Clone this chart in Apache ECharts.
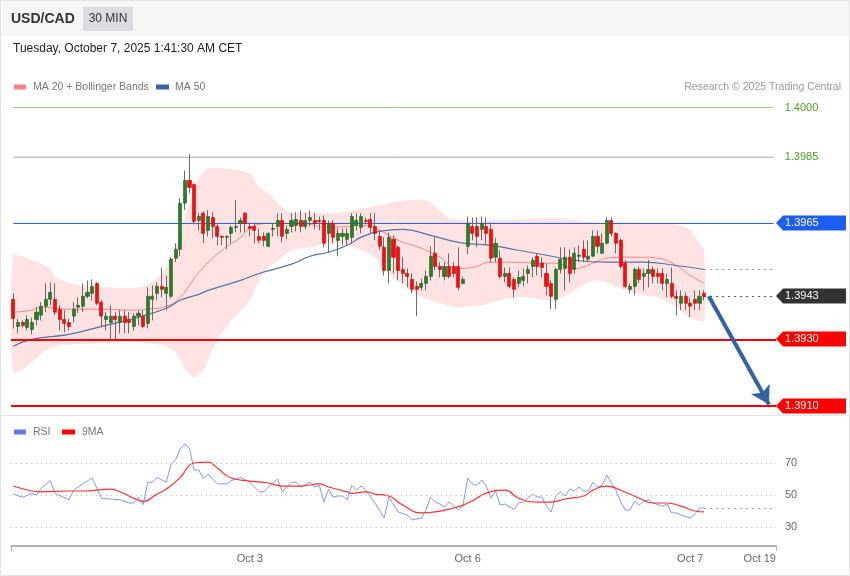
<!DOCTYPE html>
<html>
<head>
<meta charset="utf-8">
<script src="https://cdn.jsdelivr.net/npm/echarts@6/dist/echarts.min.js"></script>
<style>
  html, body { margin: 0; padding: 0; background: #fff; }
  #chart { width: 850px; height: 576px; }
</style>
</head>
<body>
<div id="chart"></div>
<script>
// USD/CAD 30-minute candles: [open, close, low, high]
const candles = [
  [1.39421,1.39363,1.39333,1.39439],[1.39339,1.39351,1.39318,1.39363],[1.39351,1.39342,1.39336,1.39357],
  [1.39336,1.39360,1.39327,1.39373],[1.39330,1.39351,1.39315,1.39366],[1.39360,1.39382,1.39342,1.39397],
  [1.39373,1.39400,1.39357,1.39412],[1.39400,1.39421,1.39382,1.39469],[1.39421,1.39442,1.39403,1.39472],
  [1.39421,1.39382,1.39373,1.39469],[1.39391,1.39360,1.39327,1.39403],[1.39360,1.39348,1.39321,1.39388],
  [1.39351,1.39339,1.39327,1.39363],[1.39370,1.39391,1.39351,1.39412],[1.39397,1.39403,1.39379,1.39427],
  [1.39400,1.39430,1.39382,1.39469],[1.39430,1.39442,1.39424,1.39478],[1.39439,1.39460,1.39418,1.39481],
  [1.39469,1.39409,1.39403,1.39472],[1.39412,1.39370,1.39336,1.39418],[1.39360,1.39370,1.39327,1.39382],
  [1.39351,1.39370,1.39297,1.39403],[1.39370,1.39360,1.39297,1.39382],[1.39351,1.39370,1.39318,1.39388],
  [1.39370,1.39351,1.39318,1.39388],[1.39360,1.39351,1.39318,1.39382],[1.39339,1.39370,1.39327,1.39379],
  [1.39370,1.39379,1.39342,1.39388],[1.39370,1.39339,1.39333,1.39388],[1.39348,1.39430,1.39333,1.39457],
  [1.39421,1.39430,1.39357,1.39463],[1.39439,1.39460,1.39418,1.39472],[1.39460,1.39451,1.39427,1.39517],
  [1.39439,1.39457,1.39388,1.39493],[1.39430,1.39542,1.39424,1.39548],[1.39545,1.39572,1.39533,1.39590],
  [1.39572,1.39711,1.39551,1.39726],[1.39711,1.39780,1.39690,1.39810],[1.39780,1.39759,1.39741,1.39859],
  [1.39768,1.39656,1.39647,1.39771],[1.39659,1.39671,1.39629,1.39681],[1.39681,1.39620,1.39590,1.39687],
  [1.39629,1.39671,1.39611,1.39690],[1.39668,1.39641,1.39605,1.39684],[1.39641,1.39611,1.39584,1.39647],
  [1.39611,1.39608,1.39584,1.39614],[1.39608,1.39611,1.39572,1.39614],[1.39620,1.39638,1.39590,1.39644],
  [1.39638,1.39641,1.39623,1.39720],[1.39650,1.39659,1.39623,1.39668],[1.39681,1.39650,1.39623,1.39684],
  [1.39641,1.39635,1.39611,1.39653],[1.39641,1.39629,1.39590,1.39653],[1.39611,1.39599,1.39590,1.39635],
  [1.39611,1.39599,1.39581,1.39623],[1.39581,1.39620,1.39578,1.39623],[1.39632,1.39635,1.39611,1.39650],
  [1.39641,1.39659,1.39611,1.39681],[1.39659,1.39611,1.39593,1.39681],[1.39620,1.39632,1.39602,1.39644],
  [1.39641,1.39659,1.39623,1.39681],[1.39644,1.39662,1.39626,1.39684],[1.39659,1.39641,1.39623,1.39690],
  [1.39641,1.39659,1.39632,1.39681],[1.39659,1.39668,1.39641,1.39690],[1.39659,1.39650,1.39632,1.39681],
  [1.39659,1.39656,1.39629,1.39671],[1.39659,1.39590,1.39578,1.39674],[1.39620,1.39650,1.39563,1.39659],
  [1.39650,1.39608,1.39590,1.39659],[1.39599,1.39620,1.39551,1.39635],[1.39611,1.39620,1.39584,1.39635],
  [1.39602,1.39620,1.39584,1.39635],[1.39608,1.39671,1.39590,1.39681],[1.39644,1.39659,1.39629,1.39681],
  [1.39638,1.39671,1.39620,1.39681],[1.39659,1.39656,1.39647,1.39668],[1.39662,1.39638,1.39620,1.39681],
  [1.39641,1.39620,1.39599,1.39681],[1.39611,1.39581,1.39569,1.39629],[1.39578,1.39508,1.39493,1.39608],
  [1.39508,1.39608,1.39469,1.39623],[1.39602,1.39548,1.39499,1.39614],[1.39578,1.39508,1.39478,1.39584],
  [1.39511,1.39499,1.39469,1.39548],[1.39499,1.39490,1.39457,1.39514],[1.39481,1.39451,1.39439,1.39499],
  [1.39460,1.39451,1.39370,1.39475],[1.39457,1.39469,1.39448,1.39484],[1.39469,1.39490,1.39448,1.39508],
  [1.39490,1.39551,1.39478,1.39581],[1.39560,1.39520,1.39508,1.39608],[1.39520,1.39511,1.39487,1.39533],
  [1.39490,1.39520,1.39478,1.39533],[1.39520,1.39490,1.39484,1.39560],[1.39520,1.39499,1.39487,1.39533],
  [1.39520,1.39457,1.39448,1.39578],[1.39469,1.39481,1.39466,1.39490],[1.39581,1.39650,1.39557,1.39671],
  [1.39641,1.39620,1.39599,1.39668],[1.39641,1.39611,1.39578,1.39668],[1.39632,1.39650,1.39599,1.39671],
  [1.39641,1.39620,1.39584,1.39668],[1.39632,1.39545,1.39533,1.39653],[1.39548,1.39590,1.39533,1.39605],
  [1.39545,1.39490,1.39484,1.39569],[1.39490,1.39499,1.39472,1.39517],[1.39499,1.39460,1.39454,1.39517],
  [1.39481,1.39451,1.39427,1.39487],[1.39469,1.39487,1.39457,1.39508],[1.39478,1.39490,1.39460,1.39514],
  [1.39499,1.39511,1.39469,1.39523],[1.39520,1.39539,1.39487,1.39548],[1.39551,1.39520,1.39493,1.39560],
  [1.39530,1.39517,1.39487,1.39548],[1.39499,1.39460,1.39433,1.39530],[1.39469,1.39430,1.39391,1.39478],
  [1.39421,1.39511,1.39391,1.39517],[1.39511,1.39542,1.39499,1.39578],[1.39514,1.39548,1.39448,1.39578],
  [1.39548,1.39499,1.39472,1.39572],[1.39511,1.39560,1.39499,1.39578],[1.39551,1.39554,1.39533,1.39584],
  [1.39572,1.39548,1.39533,1.39599],[1.39542,1.39551,1.39533,1.39599],[1.39551,1.39611,1.39548,1.39629],
  [1.39611,1.39581,1.39560,1.39629],[1.39560,1.39590,1.39557,1.39620],[1.39590,1.39659,1.39587,1.39668],
  [1.39659,1.39620,1.39611,1.39668],[1.39620,1.39590,1.39560,1.39623],[1.39599,1.39520,1.39514,1.39605],
  [1.39530,1.39460,1.39454,1.39539],[1.39451,1.39460,1.39439,1.39469],[1.39460,1.39511,1.39433,1.39517],
  [1.39511,1.39481,1.39469,1.39520],[1.39490,1.39499,1.39448,1.39514],[1.39499,1.39511,1.39457,1.39539],
  [1.39511,1.39490,1.39469,1.39520],[1.39499,1.39490,1.39469,1.39514],[1.39499,1.39469,1.39448,1.39514],
  [1.39469,1.39481,1.39427,1.39499],[1.39469,1.39430,1.39424,1.39517],[1.39430,1.39424,1.39373,1.39448],
  [1.39409,1.39430,1.39388,1.39448],[1.39430,1.39409,1.39388,1.39442],[1.39409,1.39400,1.39366,1.39424],
  [1.39421,1.39409,1.39388,1.39448],[1.39409,1.39430,1.39388,1.39448],[1.39439,1.39430,1.39418,1.39448]
];

// Moving averages and Bollinger envelope: [candle index, price]
const ma20 = [
  [0,1.39382],[4,1.39388],[6,1.39397],[12,1.39391],[19,1.39391],[26,1.39388],[29,1.39391],[33,1.39400],
  [36,1.39427],[40,1.39502],[45,1.39569],[49,1.39608],[51,1.39635],[55,1.39650],[62,1.39650],[68,1.39638],
  [72,1.39641],[75,1.39644],[79,1.39629],[83,1.39599],[88,1.39575],[92,1.39548],[96,1.39514],[99,1.39517],
  [103,1.39533],[107,1.39533],[114,1.39530],[117,1.39530],[121,1.39514],[125,1.39530],[128,1.39545],
  [132,1.39548],[136,1.39548],[139,1.39545],[143,1.39523],[146,1.39493],[149,1.39469]
];
const ma50 = [
  [0,1.39279],[4,1.39300],[12,1.39315],[19,1.39339],[26,1.39363],[33,1.39394],[36,1.39418],[40,1.39436],
  [42,1.39448],[49,1.39478],[53,1.39499],[60,1.39527],[64,1.39551],[68,1.39563],[72,1.39584],[75,1.39608],
  [79,1.39626],[84,1.39632],[90,1.39614],[96,1.39593],[103,1.39584],[109,1.39569],[115,1.39554],
  [121,1.39539],[128,1.39533],[136,1.39533],[143,1.39523],[149,1.39511]
];
const bbUpper = [
  [0,1.39551],[4,1.39539],[8,1.39514],[9,1.39487],[15,1.39460],[19,1.39457],[27,1.39457],[31,1.39484],
  [34,1.39539],[37,1.39668],[39,1.39750],[40,1.39786],[42,1.39816],[46,1.39816],[51,1.39801],[53,1.39759],
  [55,1.39741],[58,1.39699],[60,1.39684],[64,1.39684],[70,1.39681],[79,1.39705],[85,1.39720],[89,1.39720],
  [92,1.39690],[94,1.39665],[99,1.39659],[114,1.39665],[118,1.39665],[125,1.39653],[132,1.39653],
  [143,1.39647],[146,1.39629],[148,1.39590],[149,1.39569]
];
const bbLower = [
  [0,1.39200],[4,1.39231],[7,1.39267],[10,1.39282],[19,1.39288],[27,1.39291],[32,1.39282],[35,1.39261],
  [37,1.39212],[39,1.39185],[41,1.39206],[43,1.39273],[47,1.39357],[51,1.39418],[53,1.39478],[55,1.39517],
  [58,1.39548],[60,1.39569],[64,1.39578],[68,1.39590],[72,1.39587],[78,1.39548],[81,1.39499],[85,1.39457],
  [88,1.39427],[92,1.39409],[96,1.39397],[101,1.39403],[105,1.39418],[110,1.39427],[115,1.39418],
  [117,1.39418],[121,1.39448],[125,1.39478],[128,1.39472],[132,1.39448],[136,1.39433],[139,1.39427],
  [143,1.39397],[146,1.39366],[149,1.39357]
];

// RSI and its 9-period average: [candle index, value]
const rsi = [
  [0,50.6],[2,48.6],[4,51],[5,50],[6,54],[8,59],[9,51],[12,47],[13,53],[15,57],[17,60.6],[19,48],[21,47.5],
  [23,47],[25,45],[26,45],[27,48.6],[28,44],[29,58],[30,58],[31,61],[33,58],[34,69],[35,72],[36,79],[37,82],
  [38,79],[39,65.6],[40,65.6],[41,60],[42,63],[44,57],[46,57],[47,59],[49,61],[51,58],[53,52],[54,52],
  [55,55],[57,60],[58,52],[60,58],[61,58],[62,55],[64,58],[65,55],[66,56],[67,45.6],[68,53.7],[69,48.7],
  [70,49.4],[71,49.4],[72,47],[73,56],[74,53],[75,55.6],[76,53],[78,45],[80,35.6],[81,48.7],[83,39.4],
  [85,37.5],[86,34.4],[88,35.6],[89,40.6],[90,48.7],[91,45.6],[92,44.4],[93,42.5],[94,45.6],[96,40.6],
  [97,43.7],[98,60.6],[99,56.9],[100,56],[101,59.4],[102,55.6],[103,48],[104,52.5],[105,43.7],[106,44.4],
  [108,41],[109,45],[110,45.6],[112,50.6],[113,48.7],[114,48.7],[115,43],[116,39.4],[117,49.4],[118,52],
  [119,49.4],[120,53.7],[121,52.5],[122,55],[123,52.5],[124,52.5],[125,58],[126,55],[127,56],[128,62.5],
  [129,57.5],[130,53],[131,45.6],[132,40.6],[133,40.6],[134,46.3],[135,43.7],[136,46.3],[137,46.9],
  [138,45],[140,43],[141,44.4],[142,38.8],[143,38.8],[144,37.5],[146,35.6],[147,38],[148,41.9],[149,41.9]
];
const rsiMa = [
  [0,55.6],[4,52.5],[6,52],[12,52.5],[15,52.5],[21,53.7],[23,52],[26,48],[28,46],[31,50.6],[33,53.7],
  [36,61],[38,68.7],[39,70],[42,70.6],[44,66.9],[47,60.6],[51,58.7],[55,57.5],[58,55.6],[62,55.6],
  [66,56.9],[68,55],[72,52],[73,51],[76,52],[78,50.6],[81,49.4],[84,43.7],[88,38.8],[91,39.4],[95,41.9],
  [97,43.7],[99,46.3],[102,51.2],[106,53],[109,48],[113,45.6],[116,45.6],[119,47.5],[123,49.4],[125,53],
  [128,55.6],[131,53],[135,48],[138,45],[141,45],[144,43],[147,40],[149,39.4]
];

// Price levels
const resistanceLevels = [1.4000, 1.3985];
const pivotLevel = 1.3965;
const supportLevels = [1.3930, 1.3910];
const rsiLevels = [30, 50, 70];

// Time axis labels
const slotCount = 165;
const tickIndex = [51, 98, 146, 161];
const tickLabels = ['Oct 3', 'Oct 6', 'Oct 7', 'Oct 19'];

const categories = Array.from({ length: slotCount }, (_, i) => String(i));
const lastIdx = candles.length - 1;
const lastClose = candles[lastIdx][1];
const lastMa50 = ma50[ma50.length - 1][1];
const lastRsi = rsi[rsi.length - 1][1];
const bodies = candles.map(c => [c[0], c[1], Math.min(c[0], c[1]), Math.max(c[0], c[1])]);

const FONT = '"Liberation Sans", Arial, sans-serif';
const chart = echarts.init(document.getElementById('chart'), null, { renderer: 'canvas' });

// thin horizontal level drawn as its own two-point line series
function levelSeries(value, color, labelColor) {
  return {
    type: 'line', xAxisIndex: 0, yAxisIndex: 0, silent: true, z: 3, symbol: 'none',
    data: [[0, value], [slotCount - 1, value]],
    color: color,
    itemStyle: { color: color },
    lineStyle: { color: color, width: 1, type: 'solid', opacity: 1 },
    endLabel: labelColor
      ? { show: true, distance: 11, color: labelColor, fontSize: 11, fontFamily: FONT, formatter: () => value.toFixed(4) }
      : { show: false }
  };
}

// thick horizontal level across the full plot width
function supportLine(value) {
  return {
    yAxis: value,
    lineStyle: { color: '#ff0000', width: 2, type: 'solid', opacity: 1 },
    label: { show: false }
  };
}

const option = {
  animation: false,
  textStyle: { fontFamily: FONT },
  grid: [
    // half-pixel offset keeps the 1px level lines crisp
    { left: 11, right: 74, top: 94.3, height: 317.9 },
    { left: 11, right: 74, top: 419.8, bottom: 29.8 }
  ],
  xAxis: [
    { type: 'category', gridIndex: 0, data: categories, boundaryGap: true, show: false },
    {
      type: 'category', gridIndex: 1, data: categories, boundaryGap: true,
      axisLine: { show: true, lineStyle: { color: '#b4b4b4', width: 2 } },
      axisTick: { show: true, length: 5, lineStyle: { color: '#b4b4b4', width: 1 },
        interval: (i) => i === 0 },
      axisLabel: {
        color: '#666', fontSize: 11, margin: 7, fontFamily: FONT,
        interval: (i) => tickIndex.includes(i),
        formatter: (v, i) => { const k = tickIndex.indexOf(i); return k >= 0 ? tickLabels[k] : ''; }
      },
      splitLine: { show: false }
    }
  ],
  yAxis: [
    { type: 'value', gridIndex: 0, min: 1.3908, max: 1.4004, show: false, splitLine: { show: false } },
    { type: 'value', gridIndex: 1, min: 18, max: 97, show: false, splitLine: { show: false } }
  ],
  series: [
    {
      // Bollinger envelope
      type: 'custom', xAxisIndex: 0, yAxisIndex: 0, silent: true, z: 1,
      data: [0],
      renderItem: (params, api) => {
        const pts = bbUpper.map(p => api.coord(p))
          .concat(bbLower.slice().reverse().map(p => api.coord(p)));
        return { type: 'polygon', shape: { points: pts, smooth: 0.25 }, style: { fill: '#ffe3e3' } };
      }
    },
    levelSeries(resistanceLevels[0], '#8fd16e', '#4e9f28'),
    levelSeries(resistanceLevels[1], '#aaaaaa', '#4e9f28'),
    levelSeries(pivotLevel, '#2a5bd6', null),
    {
      name: 'MA 20', type: 'line', xAxisIndex: 0, yAxisIndex: 0, data: ma20, smooth: true,
      symbol: 'none', silent: true, z: 2, lineStyle: { color: '#ff8080', width: 1 },
      markLine: {
        silent: true, symbol: ['none', 'none'], animation: false, precision: 6,
        data: [
          supportLine(supportLevels[0]),
          supportLine(supportLevels[1]),
          [{ coord: [lastIdx, lastClose], lineStyle: { color: '#555', width: 1, type: [2, 4] }, label: { show: false } },
           { coord: [slotCount - 1, lastClose] }]
        ]
      }
    },
    {
      name: 'MA 50', type: 'line', xAxisIndex: 0, yAxisIndex: 0, data: ma50, smooth: true,
      symbol: 'none', silent: true, z: 2, lineStyle: { color: '#5571a8', width: 1.2 },
      markLine: {
        silent: true, symbol: ['none', 'none'], animation: false, precision: 6,
        data: [
          [{ coord: [lastIdx, lastMa50] }, { coord: [slotCount - 1, lastMa50] }]
        ],
        lineStyle: { color: '#8797bb', type: [2, 4], width: 1.2 },
        label: { show: false }
      }
    },
    {
      // wicks
      type: 'candlestick', xAxisIndex: 0, yAxisIndex: 0, data: candles, barWidth: 1, silent: true, z: 4,
      itemStyle: { color: '#6b6b6b', color0: '#6b6b6b', borderColor: '#6b6b6b', borderColor0: '#6b6b6b', borderWidth: 1 }
    },
    {
      // bodies
      type: 'candlestick', xAxisIndex: 0, yAxisIndex: 0, data: bodies, barWidth: 3.6, silent: true, z: 5,
      itemStyle: { color: '#2a7d2a', color0: '#f01010', borderColor: '#1d5e1d', borderColor0: '#d40000', borderWidth: 0.6 }
    },
    {
      // projected move
      type: 'line', xAxisIndex: 0, yAxisIndex: 0, data: ma50, silent: true, z: 6,
      symbol: 'none', lineStyle: { opacity: 0 },
      markLine: {
        silent: true, symbol: ['none', 'arrow'], symbolSize: [16, 18], animation: false, precision: 6,
        lineStyle: { color: '#3563a2', width: 4, type: 'solid', opacity: 1 },
        label: { show: false },
        data: [[{ coord: [lastIdx + 1, lastClose] }, { coord: [slotCount - 2, supportLevels[1] + 0.00003] }]]
      }
    },
    {
      name: 'RSI', type: 'line', xAxisIndex: 1, yAxisIndex: 1, data: rsi, symbol: 'none', silent: true, z: 3,
      lineStyle: { color: '#7f98ea', width: 1 },
      markLine: {
        silent: true, symbol: ['none', 'none'], animation: false, precision: 2,
        data: rsiLevels.map(v => ({ yAxis: v }))
          .concat([[{ coord: [lastIdx, lastRsi], lineStyle: { color: '#8a9ed8', type: [2, 4], width: 1.2 }, label: { show: false } },
                   { coord: [slotCount - 1, lastRsi] }]]),
        lineStyle: { color: '#bdbdbd', type: [1, 4], width: 1 },
        label: { show: true, position: 'end', distance: 9, color: '#666', fontSize: 11,
          formatter: (p) => String(p.value) }
      }
    },
    {
      name: '9MA', type: 'line', xAxisIndex: 1, yAxisIndex: 1, data: rsiMa, smooth: true, symbol: 'none',
      silent: true, z: 4, lineStyle: { color: '#ff3030', width: 1.2 }
    }
  ]
};

chart.setOption(option);

// Frame, header, legends and price tags
const tagLevels = [
  { value: pivotLevel, color: '#1d5ef2' },
  { value: lastClose, color: '#333333' },
  { value: supportLevels[0], color: '#ff0000' },
  { value: supportLevels[1], color: '#ff0000' }
];
const tags = tagLevels.map(t => {
  const y = Math.round(chart.convertToPixel({ yAxisIndex: 0 }, t.value));
  return {
    type: 'group', z: 20, children: [
      { type: 'polygon', shape: { points: [[776, y], [783, y - 7.5], [846, y - 7.5], [846, y + 7.5], [783, y + 7.5]] },
        style: { fill: t.color } },
      { type: 'text', x: 785, y: y, style: { text: t.value.toFixed(4), fill: '#fff', fontSize: 11,
        fontFamily: FONT, verticalAlign: 'middle' } }
    ]
  };
});

const chrome = [
  { type: 'rect', z: -10, shape: { x: 0.5, y: 0.5, width: 849, height: 575 }, style: { fill: '#fff', stroke: '#e4e4e4' } },
  { type: 'rect', z: -9, shape: { x: 1, y: 1, width: 848, height: 35 }, style: { fill: '#f6f6f6' } },
  { type: 'line', z: -9, shape: { x1: 0, y1: 415.5, x2: 850, y2: 415.5 }, style: { stroke: '#e6e6e6', lineWidth: 1 } },
  { type: 'text', x: 11, y: 19, style: { text: 'USD/CAD', fill: '#333', fontSize: 14, fontWeight: 'bold', fontFamily: FONT, verticalAlign: 'middle' } },
  { type: 'rect', shape: { x: 83, y: 7, width: 50, height: 24 }, style: { fill: '#dcdde2' } },
  { type: 'text', x: 108, y: 19, style: { text: '30 MIN', fill: '#333', fontSize: 12, fontFamily: FONT, align: 'center', verticalAlign: 'middle' } },
  { type: 'text', x: 13, y: 49, style: { text: 'Tuesday, October 7, 2025 1:41:30 AM CET', fill: '#222', fontSize: 12, fontFamily: FONT, verticalAlign: 'middle' } },
  { type: 'rect', shape: { x: 14, y: 84.5, width: 12, height: 5 }, style: { fill: '#ff8080' } },
  { type: 'text', x: 33, y: 87, style: { text: 'MA 20 + Bollinger Bands', fill: '#777', fontSize: 10.5, fontFamily: FONT, verticalAlign: 'middle' } },
  { type: 'rect', shape: { x: 156, y: 84.5, width: 13, height: 5 }, style: { fill: '#3d62a6' } },
  { type: 'text', x: 175, y: 87, style: { text: 'MA 50', fill: '#777', fontSize: 10.5, fontFamily: FONT, verticalAlign: 'middle' } },
  { type: 'text', x: 841, y: 87, style: { text: 'Research \u00a9 2025 Trading Central', fill: '#999', fontSize: 10.5, fontFamily: FONT, align: 'right', verticalAlign: 'middle' } },
  { type: 'rect', shape: { x: 14, y: 429.5, width: 12, height: 5 }, style: { fill: '#5b7fe6' } },
  { type: 'text', x: 33, y: 432, style: { text: 'RSI', fill: '#777', fontSize: 10.5, fontFamily: FONT, verticalAlign: 'middle' } },
  { type: 'rect', shape: { x: 62, y: 429.5, width: 13, height: 5 }, style: { fill: '#ff0000' } },
  { type: 'text', x: 82, y: 432, style: { text: '9MA', fill: '#777', fontSize: 10.5, fontFamily: FONT, verticalAlign: 'middle' } }
];

chart.setOption({ graphic: chrome.concat(tags) });
</script>
</body>
</html>
